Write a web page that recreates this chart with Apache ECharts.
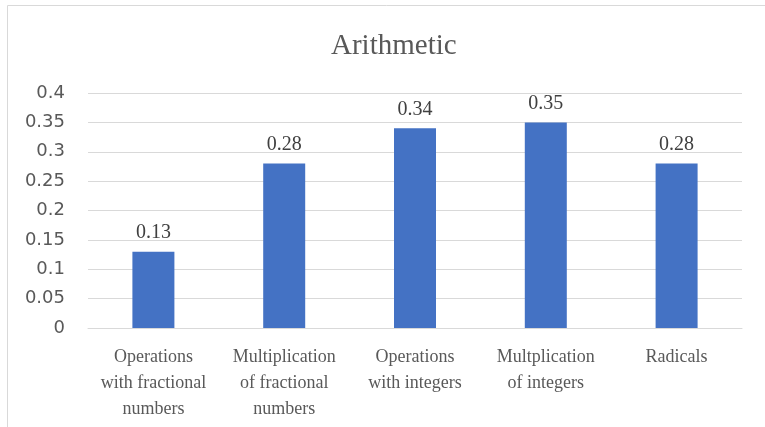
<!DOCTYPE html>
<html>
<head>
<meta charset="utf-8">
<script src="https://cdn.jsdelivr.net/npm/echarts@6/dist/echarts.min.js"></script>
<style>
  html, body { margin: 0; padding: 0; background: #fff; }
  #chart { width: 765px; height: 427px; }
</style>
</head>
<body>
<div id="chart"></div>
<script>
const categories = [
  "Operations\nwith fractional\nnumbers",
  "Multiplication\nof fractional\nnumbers",
  "Operations\nwith integers",
  "Multplication\nof integers",
  "Radicals",
];
const values = [0.13, 0.28, 0.34, 0.35, 0.28];

const chart = echarts.init(document.getElementById("chart"));
chart.setOption({
  animation: false,
  title: {
    text: "Arithmetic",
    left: 326,
    top: 27,
    textStyle: {
      fontFamily: "Liberation Serif",
      fontSize: 29,
      fontWeight: "normal",
      color: "#595959",
    },
  },
  graphic: [
    {
      type: "rect",
      shape: { x: 7.5, y: 5.5, width: 900, height: 600 },
      style: { fill: "none", stroke: "#d9d9d9", lineWidth: 1 },
      silent: true,
    },
  ],
  grid: { left: 88, right: 23, top: 93, bottom: 99 },
  xAxis: {
    type: "category",
    data: categories,
    axisTick: { show: false },
    axisLine: { lineStyle: { color: "#d9d9d9" } },
    axisLabel: {
      interval: 0,
      margin: 16,
      fontFamily: "Liberation Serif",
      fontSize: 18,
      lineHeight: 26,
      color: "#595959",
    },
  },
  yAxis: {
    type: "value",
    min: 0,
    max: 0.4,
    interval: 0.05,
    axisLine: { show: false },
    axisTick: { show: false },
    splitLine: { lineStyle: { color: "#d9d9d9" } },
    axisLabel: {
      margin: 23,
      fontFamily: "DejaVu Sans",
      fontSize: 18,
      color: "#595959",
    },
  },
  series: [
    {
      type: "bar",
      data: values,
      barWidth: 42,
      itemStyle: { color: "#4472c4" },
      label: {
        show: true,
        position: "top",
        distance: 9,
        fontFamily: "Liberation Serif",
        fontSize: 20,
        color: "#404040",
      },
    },
  ],
});
</script>
</body>
</html>
